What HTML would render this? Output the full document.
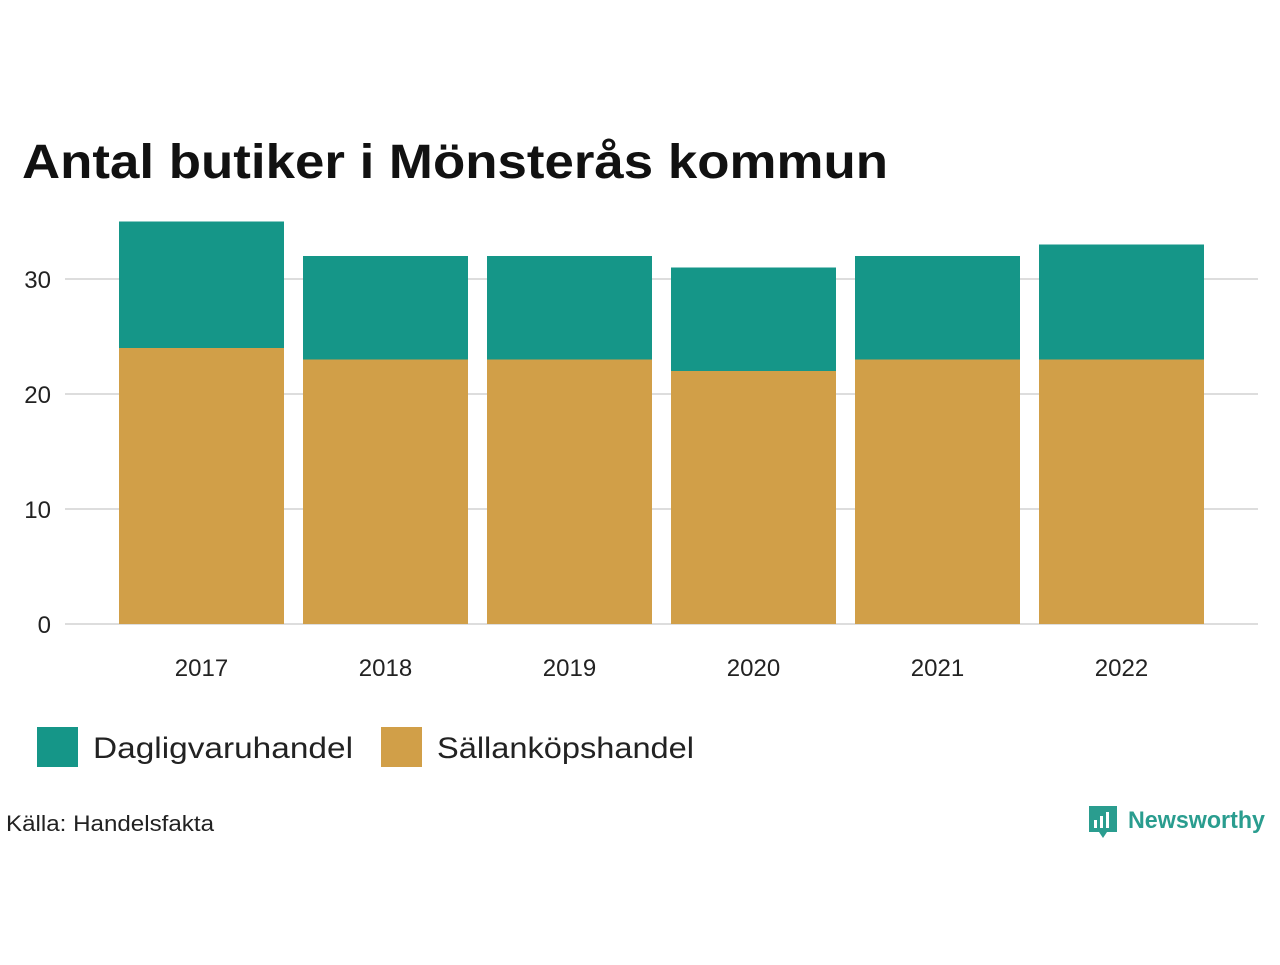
<!DOCTYPE html>
<html><head><meta charset="utf-8"><style>
body{margin:0;background:#fff;width:1280px;height:960px;overflow:hidden;font-family:"Liberation Sans",sans-serif}
</style></head><body>
<svg width="1280" height="960">
<text x="22" y="178" font-size="48" font-weight="bold" fill="#111" textLength="866" lengthAdjust="spacingAndGlyphs">Antal butiker i Mönsterås kommun</text>
<g id="grid"></g>
<g id="bars"></g>
<g id="xlab"></g>
<g>
<rect x="37" y="727" width="41" height="40" fill="#159688"/>
<text x="93" y="758" font-size="30" fill="#222" textLength="260" lengthAdjust="spacingAndGlyphs">Dagligvaruhandel</text>
<rect x="381" y="727" width="41" height="40" fill="#d19f48"/>
<text x="437" y="758" font-size="30" fill="#222" textLength="257" lengthAdjust="spacingAndGlyphs">Sällanköpshandel</text>
</g>
<text x="6" y="831" font-size="22" fill="#222" textLength="208" lengthAdjust="spacingAndGlyphs">Källa: Handelsfakta</text>
<g>
<path d="M1089 806h28v26h-10l-4 6-4-6h-10z" fill="#2a9d8f"/>
<rect x="1094" y="820" width="3" height="8" fill="#fff"/><rect x="1100" y="816" width="3" height="12" fill="#fff"/><rect x="1106" y="812" width="3" height="16" fill="#fff"/>
<text x="1128" y="828" font-size="24" font-weight="bold" fill="#2a9d8f" textLength="137" lengthAdjust="spacingAndGlyphs">Newsworthy</text>
</g>
</svg>
<script>
const years=["2017","2018","2019","2020","2021","2022"];
const sallan=[24,23,23,22,23,23];
const daglig=[11,9,9,9,9,10];
const ticks=[0,10,20,30];
const ns="http://www.w3.org/2000/svg";
const y=v=>624-v*11.5;
const x=i=>119+i*184;
const bw=165;
function mk(t,a,p){const e=document.createElementNS(ns,t);for(const k in a)e.setAttribute(k,a[k]);p.appendChild(e);return e;}
const g=document.getElementById('grid');
ticks.forEach(t=>{
 const l=mk('line',{x1:65,x2:1258,y1:y(t),y2:y(t),stroke:'#ddd','stroke-width':2},g);
 
 
 const tx=mk('text',{x:51,y:y(t)+9,'font-size':24,fill:'#222','text-anchor':'end'},g);
 tx.textContent=t;
 
 
});
const b=document.getElementById('bars'),xl=document.getElementById('xlab');
years.forEach((yr,i)=>{
 const r1=mk('rect',{x:x(i),y:y(sallan[i]),width:bw,height:y(0)-y(sallan[i]),fill:'#d19f48'},b);
 
 
 const tot=sallan[i]+daglig[i];
 const r2=mk('rect',{x:x(i),y:y(tot),width:bw,height:y(sallan[i])-y(tot),fill:'#159688'},b);
 
 
 const t=mk('text',{x:x(i)+bw/2,y:676,'font-size':24,fill:'#222','text-anchor':'middle'},xl);
 t.textContent=yr;
 
 
});
</script>
</body></html>
